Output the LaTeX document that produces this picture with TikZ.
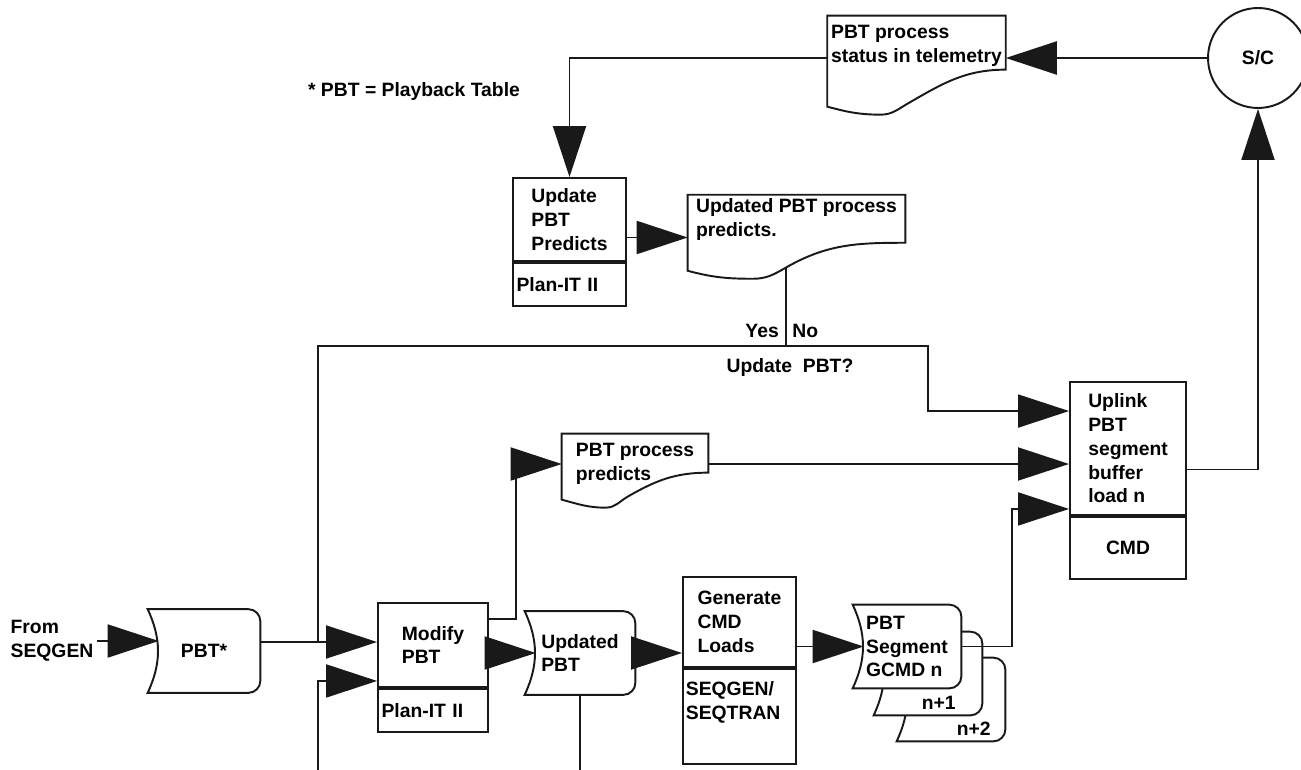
\documentclass[tikz,border=0pt]{standalone}
\usepackage{fontspec}
\setmainfont{Liberation Sans}
\usetikzlibrary{arrows.meta, positioning, calc, backgrounds}
\tikzset{
    pbtedge/.style={draw=pbtink, line width=1.1pt},
    pbtbox/.style={rectangle, pbtedge, align=left, inner sep=2pt},
    pbttool/.style={rectangle, pbtedge, align=left, inner xsep=2pt, minimum height=0.86cm},
    pbtstore/.style={rectangle, align=left, inner sep=2pt, minimum width=2.2cm, minimum height=1.66cm},
    pbtdoc/.style={rectangle, align=left, inner sep=2pt},
    pbtlabel/.style={inner sep=2pt},
    pbtline/.style={draw=pbtink, line width=1.1pt},
    pbtarrow/.style={pbtline, -{Triangle[length=1.02cm,width=0.66cm]}}
}
\definecolor{pbtink}{RGB}{25,25,25}
\newcommand{\storeoutline}[1]{%
  \draw[pbtedge, fill=white] (#1.north west) -- ($(#1.north east)+(-12,0)$)
    to[out=0,in=90] ($(#1.north east)+(0,12)$) -- ($(#1.south east)+(0,-12)$)
    to[out=-90,in=0] ($(#1.south east)+(-12,0)$) -- (#1.south west)
    to[out=65,in=-65] (#1.north west) -- cycle;}
\newcommand{\docoutline}[3]{%
  \draw[pbtedge, fill=white] (#1.north west) -- (#1.north east)
    -- ($(#1.north east)+(0,#2)$)
    to[out=180,in=30] ($(#1.north west)!0.45!(#1.north east)+(0,#3-3)$) coordinate (#1-out)
    to[out=210,in=0] ($(#1.north west)!0.3!(#1.north east)+(0,#3+8)$)
    to[out=180,in=-15] ($(#1.north west)+(0,#3)$) -- cycle;}

\begin{document}
\begin{tikzpicture}[x=0.02cm, y=-0.02cm, font=\bfseries\fontsize{11}{13.5}\selectfont]
\useasboundingbox (0,0) rectangle (1301,770);

\node[pbtlabel] (note) at (414,92) {* PBT = Playback Table};
\node[pbtlabel, align=left] (from) at (52,641) {From\\SEQGEN};
\node[pbtstore, minimum width=2.24cm] (pbtin) at (204,651) {PBT*};
\node[pbtbox, minimum width=2.2cm, minimum height=1.68cm] (modify) at (433,645) {Modify\\PBT};
\node[pbttool, text width=2.06cm, below=0pt of modify] (modtool) {Plan-IT II};
\node[pbtdoc, minimum width=2.92cm, minimum height=1.2cm] (preddoc) at (635,464) {PBT process\\predicts};
\node[pbtstore] (updpbt) at (580,653) {Updated\\PBT};
\node[pbtbox, minimum width=2.26cm, minimum height=1.8cm] (gencmd) at (739.5,622) {Generate\\CMD\\Loads};
\node[pbtbox, minimum width=2.26cm, minimum height=1.9cm, below=0pt of gencmd, label={[anchor=north west, align=left, inner sep=2pt, yshift=-0.2cm]north west:SEQGEN/\\SEQTRAN}] (gentool) {};
\node[pbtstore, minimum width=2.16cm, label={[anchor=south east, xshift=-0.17cm]south east:n+2}] (seg3) at (951,699.5) {};
\node[pbtstore, minimum width=2.16cm, label={[anchor=south east, xshift=-0.41cm]south east:n+1}] (seg2) at (928,673.5) {};
\node[pbtstore, minimum width=2.16cm] (seg1) at (907,646.5) {PBT\\Segment\\GCMD n};
\node[pbtbox, minimum width=2.32cm, minimum height=2.66cm] (uplink) at (1128,448.5) {Uplink\\PBT\\segment\\buffer\\load n};
\node[pbtbox, align=center, minimum width=2.32cm, minimum height=1.24cm, below=0pt of uplink] (uptool) {CMD};
\node[circle, pbtedge, minimum size=2cm, inner sep=0pt] (sc) at (1258,58) {S/C};
\node[pbtdoc, minimum width=3.54cm, minimum height=1.2cm] (statdoc) at (916.5,46) {PBT process\\status in telemetry};
\node[pbtbox, minimum width=2.26cm, minimum height=1.66cm] (updpred) at (569.5,219.5) {Update\\PBT\\Predicts};
\node[pbttool, text width=2.12cm, below=0pt of updpred] (updtool) {Plan-IT II};
\node[pbtdoc, minimum width=4.34cm, minimum height=0.96cm] (upddoc) at (796.5,219.5) {Updated PBT process\\predicts.};
\node[pbtlabel] (ask) at (790,368) {Update~~PBT?};

\begin{scope}[on background layer]
\storeoutline{pbtin}
\storeoutline{updpbt}
\storeoutline{seg3}
\storeoutline{seg2}
\storeoutline{seg1}
\docoutline{preddoc}{39}{66}
\docoutline{statdoc}{54}{91}
\docoutline{upddoc}{48}{76}
\end{scope}

\coordinate (j1) at (318,642);
\coordinate (bot1) at (318,770);
\coordinate (bot2) at (580,770);
\path (upddoc-out) ++(0,78) coordinate (split);

\draw[pbtarrow] (from.east) -- ($(from.east -| pbtin.west)+(11,0)$);
\draw[pbtline] (pbtin.east |- j1) -- (j1);
\draw[pbtarrow] (j1) -- (modify.west |- j1);
\draw[pbtarrow] (bot1) |- ($(modify.south west)+(0,-7)$);
\draw[pbtarrow] ($(modify.north east)+(0,17)$) -- ++(27,0) |- (preddoc.west);
\draw[pbtarrow] (modify.east |- updpbt) -- ($(updpbt.west)+(11,0)$);
\draw[pbtline] (updpbt) -- (bot2);
\draw[pbtarrow] (updpbt.east) -- (gencmd.west |- updpbt);
\draw[pbtarrow] (gencmd.east |- seg1) -- ($(seg1.west)+(11,0)$);
\draw[pbtarrow] (seg1.east) -- ++(51,0) |- ($(uplink.south west)+(0,-7)$);
\draw[pbtarrow] (preddoc.east) -- (preddoc.east -| uplink.west);
\draw[pbtarrow] ($(uplink.east)+(0,21)$) -| (sc.south);
\draw[pbtarrow] (sc.west) -- (sc.west -| statdoc.east);
\draw[pbtarrow] (statdoc.west |- sc) -| (updpred.north);
\draw[pbtarrow] ($(updpred.east)+(0,18)$) -- ($(upddoc.west)+(0,18)$);
\draw[pbtline] (upddoc-out) -- (split);
\draw[pbtline] (split) -| (j1);
\draw[pbtarrow] (split) -- ++(142,0) |- ($(uplink.north west)+(0,30)$);
\node[pbtlabel, anchor=south east] (yes) at ($(split)+(-3,-4)$) {Yes};
\node[pbtlabel, anchor=south west] (no) at ($(split)+(3,-4)$) {No};

\end{tikzpicture}
\end{document}
